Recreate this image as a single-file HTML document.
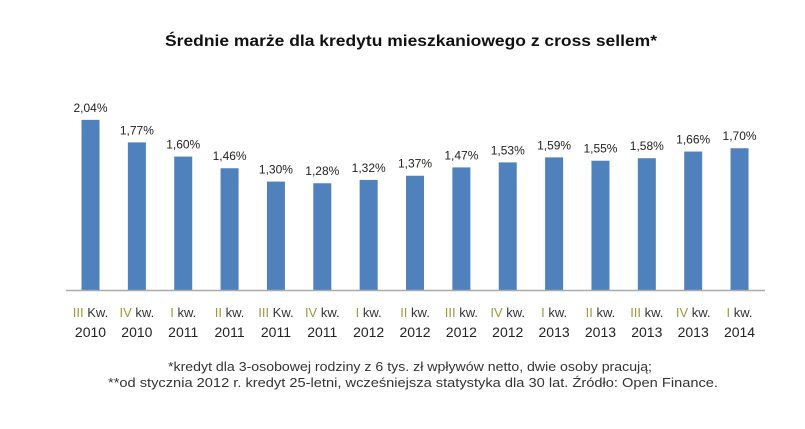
<!DOCTYPE html>
<html><head><meta charset="utf-8"><style>
body{margin:0;background:#fff;width:805px;height:424px;overflow:hidden;font-family:"Liberation Sans",sans-serif}
</style></head><body>
<svg width="805" height="424">
<text x="411" y="46" text-anchor="middle" font-weight="bold" font-size="16" textLength="492" lengthAdjust="spacingAndGlyphs" fill="#111">Średnie marże dla kredytu mieszkaniowego z cross sellem*</text>
<g id="bars"></g>
<line x1="66" y1="290.5" x2="765" y2="290.5" stroke="#aaa" stroke-width="1.5"/>
<text x="410" y="371" text-anchor="middle" font-size="13" textLength="484" lengthAdjust="spacingAndGlyphs" fill="#333">*kredyt dla 3-osobowej rodziny z 6 tys. zł wpływów netto, dwie osoby pracują;</text>
<text x="413" y="387" text-anchor="middle" font-size="13" textLength="610" lengthAdjust="spacingAndGlyphs" fill="#333">**od stycznia 2012 r. kredyt 25-letni, wcześniejsza statystyka dla 30 lat. Źródło: Open Finance.</text>
</svg>
<script>
const quarters=["III Kw.","IV kw.","I kw.","II kw.","III Kw.","IV kw.","I kw.","II kw.","III kw.","IV kw.","I kw.","II kw.","III kw.","IV kw.","I kw."];
const years=["2010","2010","2011","2011","2011","2011","2012","2012","2012","2012","2013","2013","2013","2013","2014"];
const values=[2.04,1.77,1.60,1.46,1.30,1.28,1.32,1.37,1.47,1.53,1.59,1.55,1.58,1.66,1.70];
const NS="http://www.w3.org/2000/svg";
const g=document.getElementById('bars');
const x0=90.5,step=46.36,base=290,scale=83.4,bw=18;
const xs=i=>x0+i*step, ys=v=>base-v*scale;
values.forEach((v,i)=>{
  const cx=xs(i);
  const r=document.createElementNS(NS,'rect');
  r.setAttribute('x',cx-bw/2);r.setAttribute('y',ys(v));r.setAttribute('width',bw);r.setAttribute('height',base-ys(v));r.setAttribute('fill','#4f81bd');
  
  
  g.appendChild(r);
  const t=document.createElementNS(NS,'text');
  t.setAttribute('x',cx);t.setAttribute('y',ys(v)-8);t.setAttribute('text-anchor','middle');t.setAttribute('font-size','12');t.setAttribute('fill','#222');
  t.textContent=v.toFixed(2).replace('.',',')+'%';
  
  
  g.appendChild(t);
  const q=quarters[i];const parts=q.split(' ');
  const l=document.createElementNS(NS,'text');
  l.setAttribute('x',cx);l.setAttribute('y',317);l.setAttribute('text-anchor','middle');l.setAttribute('font-size','13');
  const s1=document.createElementNS(NS,'tspan');s1.setAttribute('fill','#9c9a3c');s1.textContent=parts[0]+' ';
  const s2=document.createElementNS(NS,'tspan');s2.setAttribute('fill','#333');s2.textContent=parts[1];
  l.appendChild(s1);l.appendChild(s2);
  
  
  g.appendChild(l);
  const y=document.createElementNS(NS,'text');
  y.setAttribute('x',cx);y.setAttribute('y',337);y.setAttribute('text-anchor','middle');y.setAttribute('font-size','14');y.setAttribute('fill','#222');
  y.textContent=years[i];
  
  
  g.appendChild(y);
});
</script>
</body></html>
